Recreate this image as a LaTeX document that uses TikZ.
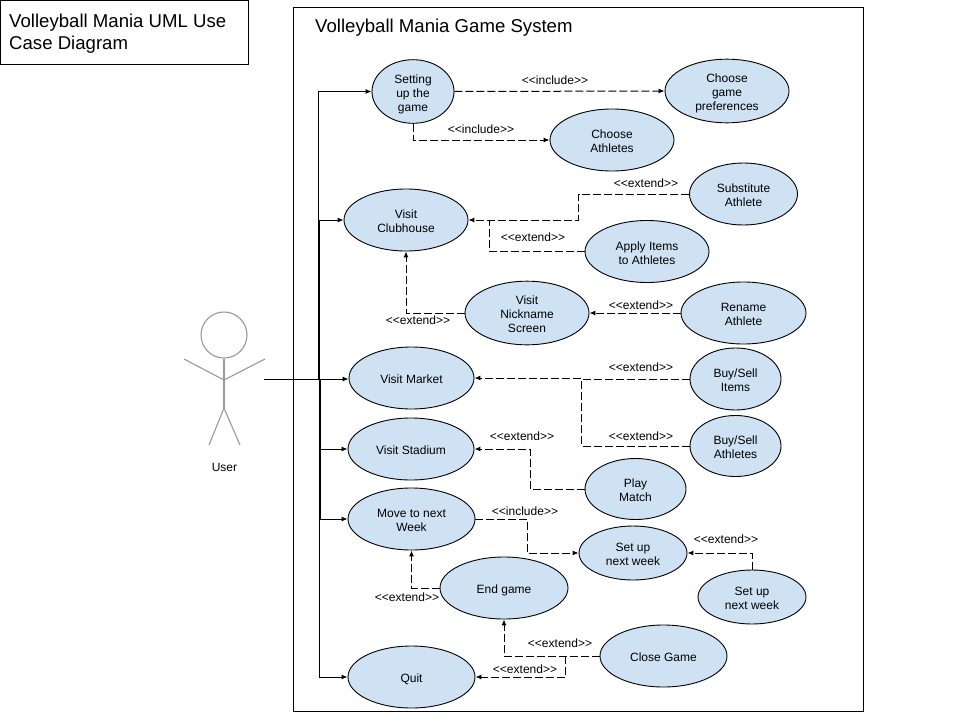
\documentclass[tikz,border=0pt]{standalone}
\usepackage{fontspec}
\setmainfont{Liberation Sans}
\usetikzlibrary{shapes.geometric,arrows.meta}
\definecolor{ucfill}{HTML}{CFE2F3}
\definecolor{actorgray}{HTML}{999999}
\newcommand{\incl}{<{}<include>{}>}
\newcommand{\extd}{<{}<extend>{}>}
\newcommand{\tp}{\rule{0pt}{14pt}}
\tikzset{
  uc/.style={draw=black,fill=ucfill,ellipse,inner sep=0pt,line width=0.9pt,align=center,font=\fontsize{12}{14}\selectfont,execute at end node={\rule[-3pt]{0pt}{3pt}}},
  lab/.style={inner sep=0pt,font=\fontsize{12}{14}\selectfont},
  assoc/.style={line width=1pt,-{Latex[length=6pt,width=5pt]}},
  dep/.style={line width=1pt,dash pattern=on 8pt off 3pt,-{Latex[length=6pt,width=5pt]}},
  depn/.style={line width=1pt,dash pattern=on 8pt off 3pt},
  stick/.style={draw=actorgray,line width=1.1pt},
  titlet/.style={inner sep=0pt,align=left,anchor=west,font=\fontsize{18.6}{22}\selectfont}
}
\begin{document}
\begin{tikzpicture}[x=1pt,y=-1pt]
\useasboundingbox[fill=white] (0,0) rectangle (960,720);
% frames
\node[draw=black,line width=0.9pt,minimum width=248pt,minimum height=63.5pt,inner sep=0pt,anchor=north west] (titlebox) at (0,0) {};
\node[titlet] (title) at (9,34) {Volleyball Mania UML Use\\Case Diagram};
\node[draw=black,line width=0.9pt,minimum width=570pt,minimum height=704pt,inner sep=0pt,anchor=north west] (system) at (293,7.2) {};
\node[titlet] (systitle) at (315,27.5) {Volleyball Mania Game System};
% actor
\node[circle,stick,minimum size=46pt,inner sep=0pt] (head) at (224,335) {};
\coordinate (neck) at (224,380);
\coordinate (hip) at (224,408);
\coordinate (lhand) at (184,359);
\coordinate (rhand) at (265,359);
\coordinate (lfoot) at (209,445);
\coordinate (rfoot) at (240,445);
\draw[stick] (head.south) -- (hip);
\draw[stick] (lhand) -- (neck) -- (rhand);
\draw[stick] (lfoot) -- (hip) -- (rfoot);
\node[lab] (user) at (224.5,467) {User};
% use cases
\node[uc,minimum width=82pt,minimum height=62pt] (setup) at (413,91.5) {\tp Setting\\up the\\game};
\node[uc,minimum width=124pt,minimum height=54pt] (pref) at (727,91) {\tp Choose\\game\\preferences};
\node[uc,minimum width=124pt,minimum height=62pt] (choose) at (612,140) {\tp Choose\\Athletes};
\node[uc,minimum width=124pt,minimum height=62pt] (club) at (406,220) {\tp Visit\\Clubhouse};
\node[uc,minimum width=108pt,minimum height=62pt] (sub) at (743.5,194) {\tp Substitute\\Athlete};
\node[uc,minimum width=124pt,minimum height=62pt] (apply) at (647,251.5) {\tp Apply Items\\to Athletes};
\node[uc,minimum width=124pt,minimum height=62pt] (nick) at (527,313) {\tp Visit\\Nickname\\Screen};
\node[uc,minimum width=125pt,minimum height=62pt] (rename) at (743.5,313) {\tp Rename\\Athlete};
\node[uc,minimum width=125pt,minimum height=62pt] (market) at (411.5,378) {\tp Visit Market};
\node[uc,minimum width=91pt,minimum height=62pt] (items) at (735.5,379) {\tp Buy/Sell\\Items};
\node[uc,minimum width=91pt,minimum height=61pt] (bath) at (735.5,446) {\tp Buy/Sell\\Athletes};
\node[uc,minimum width=126pt,minimum height=62pt] (stadium) at (411,449) {\tp Visit Stadium};
\node[uc,minimum width=101pt,minimum height=61pt] (play) at (635.5,489) {\tp Play\\Match};
\node[uc,minimum width=127pt,minimum height=62pt] (move) at (411.5,519) {\tp Move to next\\Week};
\node[uc,minimum width=108pt,minimum height=54pt] (next) at (633,553) {\tp Set up\\next week};
\node[uc,minimum width=108pt,minimum height=54pt] (nexttwo) at (752,597) {\tp Set up\\next week};
\node[uc,minimum width=128pt,minimum height=62pt] (endg) at (504,588) {\tp End game};
\node[uc,minimum width=127pt,minimum height=62pt] (close) at (663.5,656) {\tp Close Game};
\node[uc,minimum width=127pt,minimum height=62pt] (quit) at (411.5,677) {\tp Quit};
% actor associations
\coordinate (actorend) at (264,379);
\coordinate (tleft) at (318,379);
\coordinate (tmid) at (319,379);
\coordinate (tright) at (320,379);
\draw[line width=1pt] (actorend) -- (tright);
\draw[assoc] (tright) -- (tright-|market.west);
\draw[assoc] (tleft) |- (setup.west);
\draw[assoc] (tmid) |- (club.west);
\draw[assoc] (tright) |- (stadium.west);
\draw[assoc] (tright) |- (move.west);
\draw[assoc] (tmid) |- (quit.west);
% dependencies
\draw[dep] (setup.east) -- (pref.west);
\draw[dep] (setup.south) |- (choose.west);
\coordinate (subA) at (578.5,194);
\coordinate (subB) at (578.5,220);
\draw[dep] (sub.west) -- (subA) -- (subB) -- (club.east);
\coordinate (appA) at (489,251.5);
\coordinate (appB) at (489,220);
\draw[depn] (apply.west) -- (appA) -- (appB);
\draw[dep] (nick.west) -| (club.south);
\draw[dep] (rename.west) -- (nick.east);
\coordinate (itA) at (581.5,379);
\coordinate (itB) at (581.5,378);
\draw[dep] (items.west) -- (itA) -- (itB) -- (market.east);
\draw[depn] (bath.west) -| (itA);
\coordinate (plA) at (530,489);
\coordinate (plB) at (530,449);
\draw[dep] (play.west) -- (plA) -- (plB) -- (stadium.east);
\coordinate (mvA) at (527.7,519);
\coordinate (mvB) at (527.7,553);
\draw[dep] (move.east) -- (mvA) -- (mvB) -- (next.west);
\draw[dep] (nexttwo.north) |- (next.east);
\draw[dep] (endg.west) -| (move.south);
\draw[dep] (close.west) -| (endg.south);
\coordinate (clA) at (565.5,656);
\draw[dep] (clA) |- (quit.east);
% labels
\node[lab] (l1) at (555,80) {\incl};
\node[lab] (l2) at (481,129) {\incl};
\node[lab] (l3) at (646,183.5) {\extd};
\node[lab] (l4) at (533,237.5) {\extd};
\node[lab] (l5) at (418,320) {\extd};
\node[lab] (l6) at (641,305) {\extd};
\node[lab] (l7) at (641,367) {\extd};
\node[lab] (l8) at (641,436) {\extd};
\node[lab] (l9) at (522,436.5) {\extd};
\node[lab] (l10) at (525,511) {\incl};
\node[lab] (l11) at (726,539) {\extd};
\node[lab] (l12) at (407,597) {\extd};
\node[lab] (l13) at (560,643) {\extd};
\node[lab] (l14) at (525,669) {\extd};
\end{tikzpicture}
\end{document}
